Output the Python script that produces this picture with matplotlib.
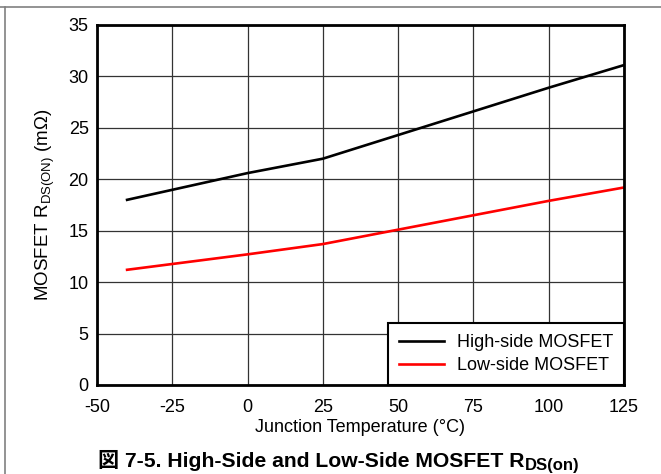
import matplotlib.pyplot as plt
from matplotlib.lines import Line2D

plt.rcParams['font.family'] = ['Liberation Sans', 'Noto Sans CJK JP']
plt.rcParams['mathtext.fontset'] = 'custom'
plt.rcParams['mathtext.rm'] = 'Liberation Sans'
plt.rcParams['mathtext.bf'] = 'Liberation Sans:bold'
plt.rcParams['axes.unicode_minus'] = False

# Daten
temp = [-40, 0, 25, 50, 75, 100, 125]
high_side = [18.0, 20.6, 22.0, 24.3, 26.6, 28.9, 31.1]
low_side = [11.2, 12.7, 13.7, 15.1, 16.5, 17.9, 19.2]

x_ticks = [-50, -25, 0, 25, 50, 75, 100, 125]
y_ticks = [0, 5, 10, 15, 20, 25, 30, 35]

fig = plt.figure(figsize=(6.61, 4.74), dpi=100)
ax = fig.add_axes([0.1467, 0.1878, 0.7973, 0.7595])

ax.plot(temp, high_side, color='black', lw=1.9, label='High-side MOSFET')
ax.plot(temp, low_side, color='red', lw=1.9, label='Low-side MOSFET')

ax.set_xlim(-50, 125)
ax.set_ylim(0, 35)
ax.set_xticks(x_ticks)
ax.set_yticks(y_ticks)
ax.tick_params(length=0, labelsize=13)
ax.tick_params(axis='x', pad=10)
ax.tick_params(axis='y', pad=6)
ax.grid(True, color='#333333', lw=0.9)
for s in ax.spines.values():
    s.set_linewidth(2.0)

ax.set_xlabel('Junction Temperature (°C)', fontsize=13, labelpad=2)
ax.set_ylabel(r'MOSFET R$_{\mathrm{DS(ON)}}$ (mΩ)', fontsize=13.5, labelpad=8)

leg = ax.legend(loc='lower right', fontsize=13, fancybox=False, framealpha=1,
                edgecolor='black', borderaxespad=0, handlelength=2.5,
                borderpad=0.6, labelspacing=0.35, handletextpad=0.7)
leg.get_frame().set_linewidth(1.5)

# Bildunterschrift
t1 = fig.text(98 / 661, 1 - 460 / 474, '図 7-5. High-Side and Low-Side MOSFET R',
              fontsize=15.2, weight='bold', ha='left', va='center')
ax.annotate('DS(on)', xy=(1, 0.22), xycoords=t1, xytext=(0.3, 0),
            textcoords='offset points', fontsize=12, weight='bold',
            ha='left', va='center', annotation_clip=False)

# Rahmen
fig.add_artist(Line2D([0, 1], [1 - 6.5 / 474] * 2, color='#808080', lw=1.2))
fig.add_artist(Line2D([4.5 / 661] * 2, [0, 1 - 6.5 / 474], color='#808080', lw=1.2))

fig.savefig('out.png', dpi=100)
